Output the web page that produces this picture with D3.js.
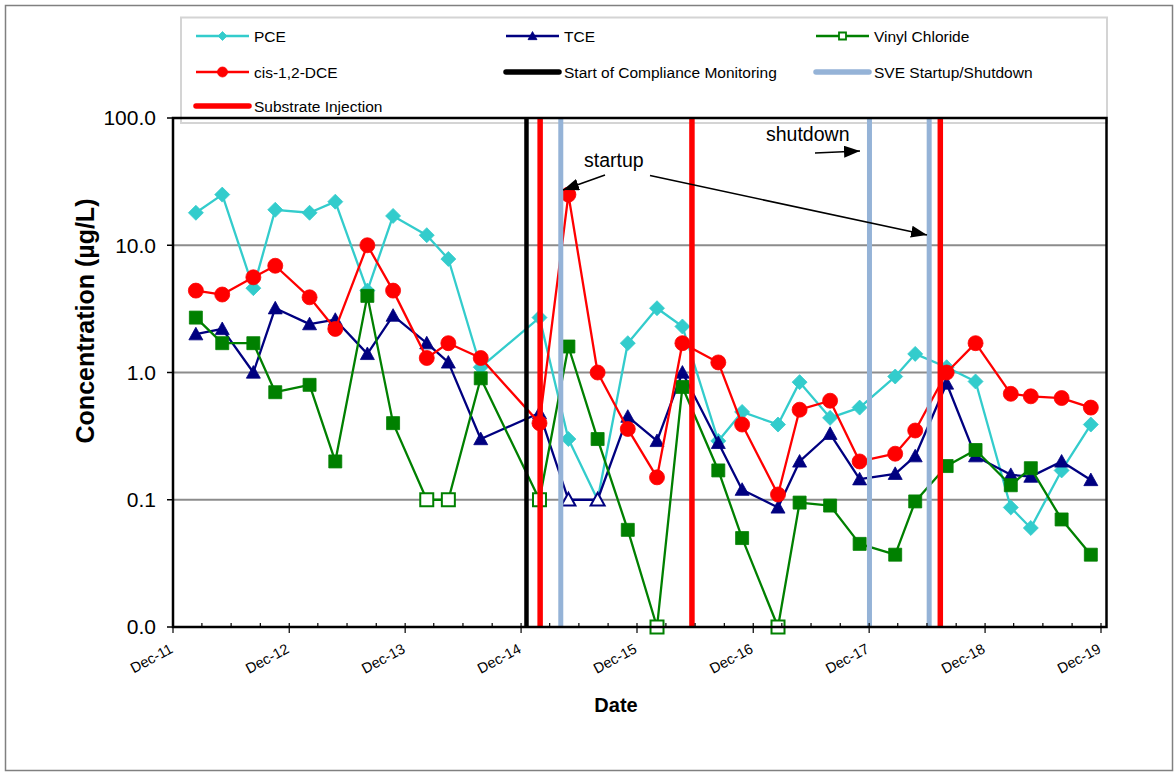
<!DOCTYPE html>
<html>
<head>
<meta charset="utf-8">
<script src="https://cdn.jsdelivr.net/npm/d3@7"></script>
<style>
  html, body { margin: 0; padding: 0; background: #fff; }
  svg { display: block; }
  text { font-family: "Liberation Sans", Arial, sans-serif; }
</style>
</head>
<body>
<svg id="chart" width="1175" height="772"></svg>
<script>
// ---------------- DATA ----------------
const sampleDates = [
  "2012-02-11","2012-05-04","2012-08-10","2012-10-18","2013-02-03","2013-04-25","2013-08-04","2013-10-24",
  "2014-02-07","2014-04-16","2014-07-27","2015-01-28","2015-04-29","2015-07-30","2015-11-02","2016-02-02",
  "2016-04-22","2016-08-13","2016-10-27","2017-02-17","2017-04-26","2017-07-31","2017-11-01","2018-02-21",
  "2018-04-25","2018-08-02","2018-11-01","2019-02-20","2019-04-24","2019-07-30","2019-10-30"
];
const pce = [18, 25, 4.6, 19, 18, 22, 4.4, 17, 12, 7.8, 1.1, 2.7, 0.30, 0.1, 1.7, 3.2,
             2.3, 0.29, 0.49, 0.39, 0.84, 0.44, 0.53, 0.93, 1.4, 1.1, 0.85, 0.087, 0.060, 0.17, 0.39];
const pceNonDetect = [13];
const tce = [2.0, 2.2, 1.0, 3.2, 2.4, 2.6, 1.4, 2.8, 1.7, 1.2, 0.30, 0.48, 0.1, 0.1, 0.45, 0.29,
             1.0, 0.28, 0.12, 0.087, 0.20, 0.33, 0.145, 0.16, 0.22, 0.82, 0.22, 0.157, 0.152, 0.20, 0.143];
const tceNonDetect = [12, 13];
const vinylChloride = [2.7, 1.7, 1.7, 0.7, 0.8, 0.2, 4.0, 0.4, 0.1, 0.1, 0.9, 0.1, 1.6, 0.30, 0.058, 0.01,
             0.77, 0.17, 0.05, 0.01, 0.095, 0.09, 0.045, 0.037, 0.097, 0.184, 0.246, 0.13, 0.177, 0.07, 0.037];
const vcNonDetect = [8, 9, 11, 15, 19];
const cisDCE = [4.4, 4.1, 5.6, 6.9, 3.9, 2.2, 10, 4.4, 1.3, 1.7, 1.3, 0.40, 25, 1.0, 0.36, 0.15,
             1.7, 1.2, 0.39, 0.11, 0.51, 0.60, 0.20, 0.23, 0.35, 1.0, 1.7, 0.68, 0.65, 0.63, 0.53];

const complianceStart = ["2014-12-18"];
const substrateInjections = ["2015-01-30", "2016-05-22", "2018-07-13"];
const sveEvents = ["2015-04-05", "2017-12-02", "2018-06-08"];

const xTickLabels = ["Dec-11","Dec-12","Dec-13","Dec-14","Dec-15","Dec-16","Dec-17","Dec-18","Dec-19"];
const yTickValues = [0.01, 0.1, 1, 10, 100];
const yTickLabels = ["0.0", "0.1", "1.0", "10.0", "100.0"];

const legendLabels = ["PCE","TCE","Vinyl Chloride","cis-1,2-DCE","Start of Compliance Monitoring","SVE Startup/Shutdown","Substrate Injection"];

// ---------------- SETUP ----------------
const parse = d3.utcParse("%Y-%m-%d");
const svg = d3.select("#chart");
const L = 173, R = 1106.5, T = 118, B = 627;
const xStart = new Date(Date.UTC(2011, 11, 1)), xEnd = new Date(Date.UTC(2019, 11, 1));

const x = d3.scaleUtc().domain([xStart, xEnd]).range([L, 1101]);
const y = d3.scaleLog().domain([0.01, 100]).range([B, T]);

const C = { pce: "#33CCCC", tce: "#000080", vc: "#008000", dce: "#FF0000", sve: "#95B3D7", black: "#000" };

// outer frame
svg.append("rect").attr("x", 5.5).attr("y", 5.5).attr("width", 1167).attr("height", 765)
  .attr("fill", "#fff").attr("stroke", "#808080").attr("stroke-width", 1.5);

// legend box (behind plot frame)
svg.append("rect").attr("x", 181).attr("y", 17.5).attr("width", 926).attr("height", 105.5)
  .attr("fill", "#fff").attr("stroke", "#d4d4d4").attr("stroke-width", 2);

// gridlines
svg.append("g").selectAll("line").data(yTickValues.slice(1, 4)).join("line")
  .attr("x1", L).attr("x2", R).attr("y1", d => y(d)).attr("y2", d => y(d))
  .attr("stroke", "#8c8c8c").attr("stroke-width", 2);

// ---------------- MARKERS ----------------
function diamondPath(cx, cy, r) { return `M${cx},${cy - r}L${cx + r},${cy}L${cx},${cy + r}L${cx - r},${cy}Z`; }
function trianglePath(cx, cy, s) { const h = s * 0.9; return `M${cx},${cy - h * 0.55}L${cx + s / 2},${cy + h * 0.45}L${cx - s / 2},${cy + h * 0.45}Z`; }
function squarePath(cx, cy, s) { return `M${cx - s / 2},${cy - s / 2}h${s}v${s}h${-s}Z`; }
function circlePath(cx, cy, r) { return `M${cx - r},${cy}a${r},${r} 0 1,0 ${2 * r},0a${r},${r} 0 1,0 ${-2 * r},0Z`; }

const lineGen = d3.line().x(d => x(d.date)).y(d => y(d.v));

function drawSeries(values, nd, color, shape, ndMode) {
  const data = values.map((v, i) => ({ date: parse(sampleDates[i]), v, nd: nd.includes(i) }));
  const g = svg.append("g");
  g.append("path").datum(data).attr("d", lineGen).attr("fill", "none")
    .attr("stroke", color).attr("stroke-width", 2.3).attr("stroke-linejoin", "round");
  g.selectAll("path.m").data(data.filter(d => !(d.nd && ndMode === "hide"))).join("path")
    .attr("class", "m")
    .attr("d", d => shape(x(d.date), y(d.v)))
    .attr("fill", d => d.nd ? "#fff" : color)
    .attr("stroke", color).attr("stroke-width", d => d.nd ? 2 : 0.8);
}

drawSeries(pce, pceNonDetect, C.pce, (cx, cy) => diamondPath(cx, cy, 7.5), "hide");
drawSeries(tce, tceNonDetect, C.tce, (cx, cy) => trianglePath(cx, cy, 14), "open");
drawSeries(vinylChloride, vcNonDetect, C.vc, (cx, cy) => squarePath(cx, cy, 13), "open");
drawSeries(cisDCE, [], C.dce, (cx, cy) => circlePath(cx, cy, 7.5), "open");

// ---------------- EVENT LINES ----------------
function vlines(dates, color, width) {
  svg.append("g").selectAll("line").data(dates.map(parse)).join("line")
    .attr("x1", d => x(d)).attr("x2", d => x(d)).attr("y1", T).attr("y2", B)
    .attr("stroke", color).attr("stroke-width", width);
}
vlines(complianceStart, C.black, 4.5);
vlines(sveEvents, C.sve, 5);
vlines(substrateInjections, C.dce, 5.5);

// ---------------- FRAME & AXES ----------------
svg.append("rect").attr("x", L).attr("y", T).attr("width", R - L).attr("height", B - T)
  .attr("fill", "none").attr("stroke", "#000").attr("stroke-width", 2.5);

// y ticks
const yAxis = svg.append("g");
yAxis.selectAll("line").data(yTickValues).join("line")
  .attr("x1", L - 6).attr("x2", L).attr("y1", d => y(d)).attr("y2", d => y(d))
  .attr("stroke", "#000").attr("stroke-width", 1.5);
yAxis.selectAll("text").data(yTickValues).join("text")
  .attr("x", 156).attr("y", d => y(d)).attr("dy", "0.35em")
  .attr("text-anchor", "end").attr("font-size", 21).attr("fill", "#000")
  .text((d, i) => yTickLabels[i]);

// x ticks: quarterly minor (inside), yearly major (crossing) at December
const monthTicks = d3.utcMonth.range(xStart, d3.utcDay.offset(xEnd, 1));
const quarterTicks = monthTicks.filter((d, i) => i % 3 === 0);
const xAxis = svg.append("g");
xAxis.selectAll("line").data(quarterTicks).join("line")
  .attr("x1", d => x(d)).attr("x2", d => x(d))
  .attr("y1", B - 4)
  .attr("y2", d => d.getUTCMonth() === 11 ? B + 6 : B)
  .attr("stroke", "#000").attr("stroke-width", 1.2);
const yearTicks = quarterTicks.filter(d => d.getUTCMonth() === 11);
xAxis.selectAll("text").data(yearTicks).join("text")
  .attr("transform", d => `translate(${x(d) + 1},${B + 25}) rotate(-28)`)
  .attr("text-anchor", "end").attr("font-size", 14.5).attr("fill", "#000")
  .text((d, i) => xTickLabels[i]);

// axis titles
svg.append("text").attr("x", 616).attr("y", 712).attr("text-anchor", "middle")
  .attr("font-size", 20).attr("font-weight", "bold").text("Date");
svg.append("text").attr("transform", "translate(94,321) rotate(-90)")
  .attr("text-anchor", "middle").attr("font-size", 25).attr("font-weight", "bold")
  .text("Concentration (µg/L)");

// ---------------- ANNOTATIONS ----------------
const defs = svg.append("defs");
defs.append("marker").attr("id", "ah").attr("viewBox", "0 0 16 12").attr("refX", 16).attr("refY", 6)
  .attr("markerWidth", 16).attr("markerHeight", 12).attr("markerUnits", "userSpaceOnUse")
  .attr("orient", "auto").append("path").attr("d", "M0,0L16,6L0,12Z").attr("fill", "#000");
const arrows = [[605, 175, 563, 190], [650, 175.5, 927, 235], [815, 153, 860, 151]];
svg.append("g").selectAll("line").data(arrows).join("line")
  .attr("x1", d => d[0]).attr("y1", d => d[1]).attr("x2", d => d[2]).attr("y2", d => d[3])
  .attr("stroke", "#000").attr("stroke-width", 1.6).attr("marker-end", "url(#ah)");
svg.append("text").attr("x", 584).attr("y", 167).attr("font-family", "Lato, 'Open Sans', sans-serif")
  .attr("font-size", 19.5).text("startup");
svg.append("text").attr("x", 766).attr("y", 141).attr("font-family", "Lato, 'Open Sans', sans-serif")
  .attr("font-size", 19.5).text("shutdown");

// ---------------- LEGEND ----------------
const legendItems = [
  { col: 0, row: 0, color: C.pce, kind: "marker", shape: (cx, cy) => diamondPath(cx, cy, 4.5), open: false },
  { col: 1, row: 0, color: C.tce, kind: "marker", shape: (cx, cy) => trianglePath(cx, cy, 9), open: false },
  { col: 2, row: 0, color: C.vc, kind: "marker", shape: (cx, cy) => squarePath(cx, cy, 7), open: true },
  { col: 0, row: 1, color: C.dce, kind: "marker", shape: (cx, cy) => circlePath(cx, cy, 5), open: false },
  { col: 1, row: 1, color: C.black, kind: "bar" },
  { col: 2, row: 1, color: C.sve, kind: "bar" },
  { col: 0, row: 2, color: C.dce, kind: "bar" }
];
const colX = [196, 506, 816], rowY = [36, 72, 106];
const lg = svg.append("g");
legendItems.forEach((it, i) => {
  const x0 = colX[it.col], yy = rowY[it.row];
  lg.append("line").attr("x1", x0).attr("x2", x0 + 53).attr("y1", yy).attr("y2", yy)
    .attr("stroke", it.color).attr("stroke-width", it.kind === "bar" ? 5.5 : 2.3)
    .attr("stroke-linecap", it.kind === "bar" ? "round" : "butt");
  if (it.kind === "marker") {
    lg.append("path").attr("d", it.shape(x0 + 26.5, yy))
      .attr("fill", it.open ? "#fff" : it.color).attr("stroke", it.color).attr("stroke-width", it.open ? 1.8 : 0.8);
  }
  lg.append("text").attr("x", x0 + 58).attr("y", yy + 5.5).attr("font-size", 15.5).attr("fill", "#000")
    .text(legendLabels[i]);
});
</script>
</body>
</html>
